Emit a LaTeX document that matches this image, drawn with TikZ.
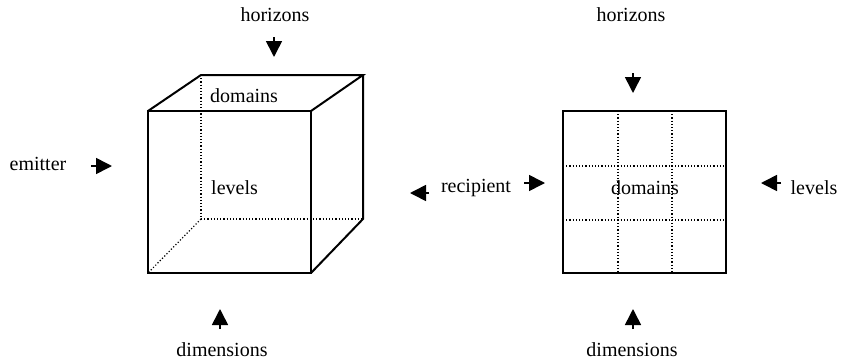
\documentclass[tikz,border=0pt]{standalone}
\usepackage{fontspec}
\setmainfont{Liberation Serif}
\usetikzlibrary{arrows.meta}
\begin{document}
\begin{tikzpicture}[x=1pt,y=-1pt,
  lbl/.style={font=\fontsize{20}{24}\selectfont, inner sep=0pt},
  solidline/.style={line width=2pt, line join=miter},
  dotline/.style={line width=1.2pt, dotted},
  tiny/.style={line width=1.6pt, -{Triangle[length=16pt,width=16pt]}}]
\useasboundingbox (0,0) rectangle (841,362);
% cube
\coordinate (fa) at (148,111); \coordinate (fb) at (311,111);
\coordinate (fc) at (311,273); \coordinate (fd) at (148,273);
\coordinate (ba) at (201,75);  \coordinate (bb) at (363,75);
\coordinate (bc) at (363,219); \coordinate (bd) at (201,219);
\draw[dotline] (ba) -- (bd) -- (bc);
\draw[dotline] (bd) -- (fd);
\draw[solidline] (fa) -- (fb) -- (fc) -- (fd) -- cycle;
\draw[solidline] (fa) -- (ba) -- (bb) -- (fb);
\draw[solidline] (bb) -- (bc) -- (fc);
\node[lbl, anchor=west] (cdom) at (210,96) {domains};
\node[lbl, anchor=west] (clev) at (211,188) {levels};
% grid
\coordinate (ga) at (563,111); \coordinate (gc) at (726,273);
\draw[dotline] (618,111) -- (618,273);
\draw[dotline] (672,111) -- (672,273);
\draw[dotline] (563,166) -- (726,166);
\draw[dotline] (563,220) -- (726,220);
\draw[solidline] (ga) rectangle (gc);
\node[lbl] (gdom) at (645,188) {domains};
% labels
\node[lbl] (h1) at (275,15) {horizons};
\node[lbl] (h2) at (631,15) {horizons};
\node[lbl] (em) at (38,164) {emitter};
\node[lbl] (rec) at (476,188) {recipient};
\node[lbl] (lev) at (814,188) {levels};
\node[lbl] (d1) at (222,350) {dimensions};
\node[lbl] (d2) at (632,350) {dimensions};
% arrows
\coordinate (h1s) at (274,37); \coordinate (h1e) at (274,57);
\coordinate (h2s) at (633,73); \coordinate (h2e) at (633,93);
\coordinate (ems) at (91,166); \coordinate (eme) at (112,166);
\coordinate (rls) at (429,193); \coordinate (rle) at (410,193);
\coordinate (rrs) at (524,183); \coordinate (rre) at (545,183);
\coordinate (lvs) at (781,183); \coordinate (lve) at (761,183);
\coordinate (d1s) at (220,329); \coordinate (d1e) at (220,309);
\coordinate (d2s) at (633,329); \coordinate (d2e) at (633,309);
\draw[tiny] (h1s) -- (h1e);
\draw[tiny] (h2s) -- (h2e);
\draw[tiny] (ems) -- (eme);
\draw[tiny] (rls) -- (rle);
\draw[tiny] (rrs) -- (rre);
\draw[tiny] (lvs) -- (lve);
\draw[tiny] (d1s) -- (d1e);
\draw[tiny] (d2s) -- (d2e);
\end{tikzpicture}
\end{document}
